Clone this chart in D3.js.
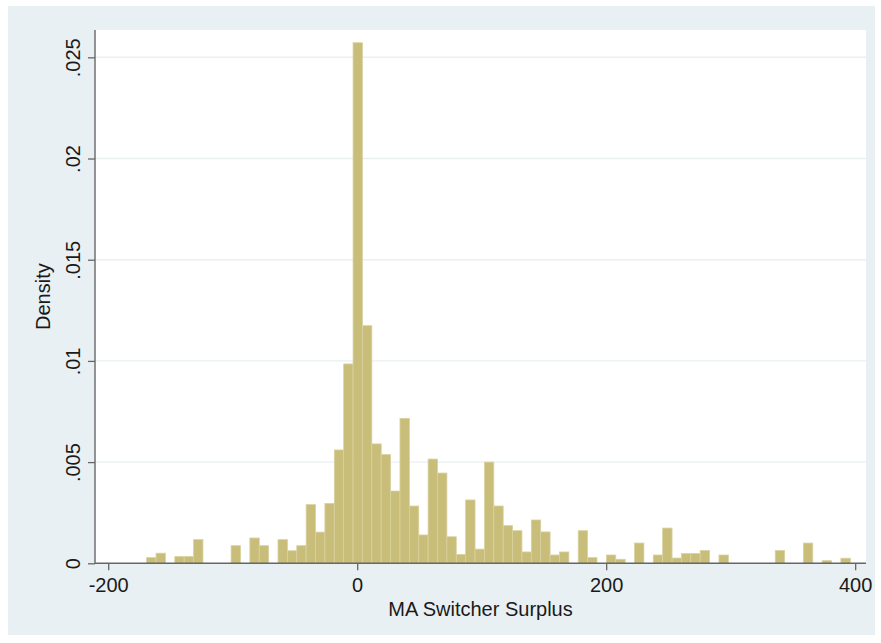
<!DOCTYPE html>
<html>
<head>
<meta charset="utf-8">
<script src="https://cdn.jsdelivr.net/npm/d3@7"></script>
<style>
  html, body { margin: 0; padding: 0; background: #ffffff; }
  svg { display: block; }
  text { font-family: "Liberation Sans", Arial, Helvetica, sans-serif; fill: #1a1a1a; }
</style>
</head>
<body>
<svg id="chart" width="881" height="643"></svg>
<script>
// ---- data (density per bin, histogram of MA Switcher Surplus) ----
const binStart = -169.1;
const binWidth = 7.536;
const densities = [
  0.00028, 0.00050, 0, 0.00033, 0.00033, 0.00117, 0, 0, 0, 0.00087,
  0, 0.00125, 0.00087, 0, 0.00117, 0.00062, 0.00087, 0.00290, 0.00154, 0.00296,
  0.00560, 0.00985, 0.02572, 0.01174, 0.00590, 0.00537, 0.00357, 0.00716, 0.00283, 0.00140,
  0.00515, 0.00446, 0.00131, 0.00044, 0.00313, 0.00070, 0.00500, 0.00283, 0.00186, 0.00161,
  0.00056, 0.00214, 0.00155, 0.00041, 0.00056, 0, 0.00161, 0.00028, 0, 0.00041,
  0.00020, 0, 0.00100, 0, 0.00041, 0.00174, 0.00026, 0.00048, 0.00048, 0.00063,
  0, 0.00041, 0, 0, 0, 0, 0, 0.00063, 0, 0,
  0.00100, 0, 0.00013, 0, 0.00025
];
const xTicks = [-200, 0, 200, 400];
const xTickLabels = ["-200", "0", "200", "400"];
const yTicks = [0, 0.005, 0.01, 0.015, 0.02, 0.025];
const yTickLabels = ["0", ".005", ".01", ".015", ".02", ".025"];
const xTitle = "MA Switcher Surplus";
const yTitle = "Density";

// ---- layout ----
const svg = d3.select("#chart");
const plot = { left: 95, right: 866, top: 30, bottom: 563.3 };

svg.append("rect").attr("x", 8).attr("y", 6).attr("width", 867).attr("height", 629)
  .attr("fill", "#e9f0f3");
svg.append("rect").attr("x", plot.left).attr("y", plot.top)
  .attr("width", plot.right - plot.left).attr("height", plot.bottom - plot.top)
  .attr("fill", "#ffffff");

const x = d3.scaleLinear().domain([-210.6, 408.7]).range([plot.left, plot.right]);
const y = d3.scaleLinear().domain([0, 0.02635]).range([plot.bottom, plot.top]);

// gridlines
svg.append("g").selectAll("line").data(yTicks.filter(d => d > 0)).join("line")
  .attr("x1", plot.left).attr("x2", plot.right)
  .attr("y1", d => y(d)).attr("y2", d => y(d))
  .attr("stroke", "#e8f0f2").attr("stroke-width", 1.4);

// bars
const bins = densities.map((d, i) => ({ x0: binStart + i * binWidth, x1: binStart + (i + 1) * binWidth, d }));
svg.append("g").selectAll("rect").data(bins.filter(b => b.d > 0)).join("rect")
  .attr("x", b => x(b.x0))
  .attr("width", b => x(b.x1) - x(b.x0))
  .attr("y", b => y(b.d))
  .attr("height", b => y(0) - y(b.d))
  .attr("fill", "#c8bd79")
  .attr("stroke", "#d9d19f")
  .attr("stroke-width", 0.8);

// y axis
const yAxis = d3.axisLeft(y).tickValues(yTicks).tickSize(7).tickPadding(6)
  .tickFormat((d, i) => yTickLabels[i]);
const gy = svg.append("g").attr("transform", `translate(${plot.left},0)`).call(yAxis);
gy.select(".domain").attr("stroke", "#666").attr("stroke-width", 1.4)
  .attr("d", `M0,${plot.top}V${plot.bottom + 0.7}`);
gy.selectAll(".tick line").attr("stroke", "#666").attr("stroke-width", 1.3);
gy.selectAll(".tick text")
  .attr("transform", "rotate(-90)")
  .attr("x", 0).attr("y", -15)
  .attr("dy", 0)
  .attr("text-anchor", "middle")
  .style("font-size", "20px")
  .style("font-family", "'Liberation Sans', Arial, sans-serif")
  .attr("fill", "#1a1a1a");

// x axis
const xAxis = d3.axisBottom(x).tickValues(xTicks).tickSize(7).tickPadding(5)
  .tickFormat((d, i) => xTickLabels[i]);
const gx = svg.append("g").attr("transform", `translate(0,${plot.bottom})`).call(xAxis);
gx.select(".domain").attr("stroke", "#666").attr("stroke-width", 1.4)
  .attr("d", `M${plot.left},0H${plot.right}`);
gx.selectAll(".tick line").attr("stroke", "#666").attr("stroke-width", 1.3);
gx.selectAll(".tick text")
  .attr("y", 29).attr("dy", 0)
  .style("font-size", "20px")
  .style("font-family", "'Liberation Sans', Arial, sans-serif")
  .attr("fill", "#1a1a1a");

// titles
svg.append("text").attr("x", (plot.left + plot.right) / 2).attr("y", 616)
  .attr("text-anchor", "middle").style("font-size", "20px").text(xTitle);
svg.append("text").attr("transform", `translate(50,${(plot.top + plot.bottom) / 2}) rotate(-90)`)
  .attr("text-anchor", "middle").style("font-size", "20px").text(yTitle);
</script>
</body>
</html>
